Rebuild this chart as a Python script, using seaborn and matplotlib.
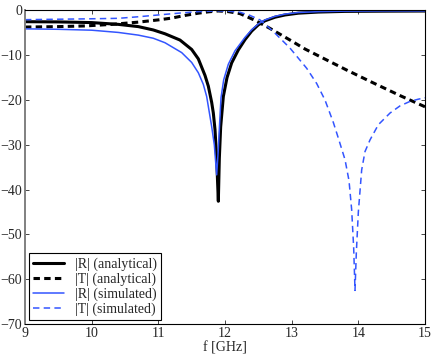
import pandas as pd
import matplotlib
matplotlib.use("Agg")
import matplotlib.pyplot as plt
import seaborn as sns

# --- Data (f in GHz, magnitude in dB) ---
f_r_an = [9.0, 9.5, 10.0, 10.4, 10.7, 10.925, 11.1, 11.325, 11.5, 11.6, 11.7, 11.75,
          11.8, 11.825, 11.85, 11.875, 11.9, 11.915, 11.935, 11.975, 12.03, 12.1,
          12.2, 12.3, 12.4, 12.5, 12.6, 12.75, 12.9, 13.1, 13.4, 13.8, 14.4, 15.0]
r_an = [-2.5, -2.55, -2.7, -3.1, -3.6, -4.35, -5.2, -6.6, -8.7, -10.8, -14.5, -16.9,
        -20.5, -22.9, -26.6, -33.0, -42.6, -33.0, -26.0, -19.2, -15.0, -11.7,
        -8.8, -6.5, -4.6, -3.2, -2.3, -1.5, -1.0, -0.6, -0.35, -0.2, -0.15, -0.12]

f_t_an = [9.0, 9.5, 9.9, 10.3, 10.7, 11.0, 11.2, 11.4, 11.6, 11.75, 11.9, 12.05,
          12.225, 12.45, 12.675, 12.975, 13.2, 13.425, 13.825, 14.2, 14.625, 15.0]
t_an = [-3.7, -3.6, -3.45, -3.1, -2.6, -2.1, -1.7, -1.1, -0.6, -0.3, -0.1, -0.25,
        -0.7, -2.2, -4.0, -6.6, -8.6, -10.3, -13.3, -16.0, -19.0, -21.5]

f_r_sim = [9.0, 9.5, 10.0, 10.4, 10.7, 10.925, 11.1, 11.35, 11.5, 11.6, 11.675, 11.725,
           11.8, 11.84, 11.875, 11.9, 11.92, 11.94, 11.98, 12.05, 12.15, 12.3, 12.4,
           12.5, 12.6, 12.75, 12.9, 13.1, 13.4, 13.8, 14.4, 15.0]
r_sim = [-4.1, -4.2, -4.4, -4.9, -5.5, -6.2, -7.2, -9.4, -11.6, -13.9, -16.5, -19.2,
         -25.9, -30.0, -36.7, -31.0, -25.0, -19.5, -15.5, -12.0, -9.0, -6.0, -4.3,
         -3.0, -2.1, -1.3, -0.8, -0.45, -0.25, -0.15, -0.1, -0.1]

f_t_sim = [9.0, 9.5, 10.0, 10.4, 10.7, 11.0, 11.3, 11.6, 11.9, 12.05, 12.225, 12.375,
           12.525, 12.725, 12.975, 13.225, 13.375, 13.5, 13.625, 13.7, 13.8, 13.86,
           13.9, 13.93, 13.95, 13.97, 14.0, 14.05, 14.1, 14.175, 14.3, 14.475, 14.625,
           14.775, 14.9, 15.0]
t_sim = [-2.05, -1.95, -1.85, -1.75, -1.4, -1.0, -0.6, -0.25, -0.1, -0.15, -0.4, -1.1,
         -2.1, -4.7, -8.4, -12.9, -16.3, -20.0, -25.0, -28.5, -33.3, -38.0,
         -44.5, -53.0, -62.5, -54.0, -45.0, -35.6, -31.5, -28.9, -25.5, -22.9, -21.3,
         -20.3, -19.8, -19.5]

# label, x, y, colour, dash pattern (None = solid), width
series = [
    ("|R| (analytical)", f_r_an, r_an, "black", None, 2.2),
    ("|T| (analytical)", f_t_an, t_an, "black", (2.1, 1.4), 2.2),
    ("|R| (simulated)", f_r_sim, r_sim, "#3355ff", None, 1.1),
    ("|T| (simulated)", f_t_sim, t_sim, "#3355ff", (4.2, 2.8), 1.1),
]

sns.set_style("ticks")
plt.rcParams["font.family"] = ["Liberation Serif", "DejaVu Serif"]
plt.rcParams["font.size"] = 10

fig = plt.figure(figsize=(4.36, 3.58), dpi=100)
ax = fig.add_axes([0.0573, 0.095, 0.9175, 0.8757])

for label, f, v, color, dash, lw in series:
    df = pd.DataFrame({"f": f, "v": v})
    sns.lineplot(data=df, x="f", y="v", ax=ax, color=color,
                 linewidth=lw, label=label, sort=False)
    if dash is not None:
        ax.lines[-1].set_dashes(dash)

ax.set_xlim(9, 15)
ax.set_ylim(-70, 0)
ax.set_xticks(range(9, 16))
ax.set_yticks(range(-70, 1, 10))
ax.set_xlabel("f [GHz]", labelpad=1)
ax.set_ylabel("")
ax.tick_params(direction="in", top=True, right=True, length=3, width=0.6,
               labelsize=10, pad=2)
for side in ["top", "bottom", "right"]:
    ax.spines[side].set_color("black")
    ax.spines[side].set_linewidth(0.8)
ax.spines["left"].set_color("#808080")
ax.spines["left"].set_linewidth(1.4)

leg = ax.legend(loc="lower left", frameon=True, fancybox=False, framealpha=1,
                edgecolor="black", fontsize=10, handlelength=2.2,
                borderpad=0.3, labelspacing=0.1, handletextpad=0.8,
                borderaxespad=0.3)
leg.get_frame().set_linewidth(0.8)

fig.savefig("out.png", dpi=100)
